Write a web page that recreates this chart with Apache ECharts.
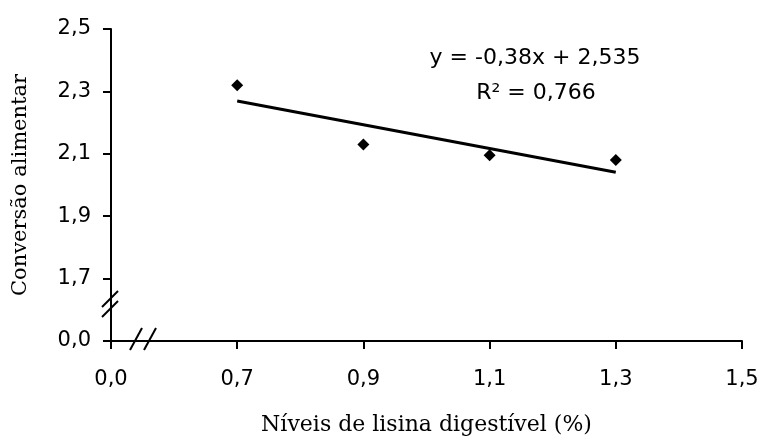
<!DOCTYPE html>
<html><head><meta charset="utf-8">
<script src="https://cdn.jsdelivr.net/npm/echarts@6/dist/echarts.min.js"></script>
<style>html,body{margin:0;padding:0;background:#fff}#c{width:762px;height:441px}</style>
</head><body><div id="c"></div>
<script>
// Data
const lysineLevels = [0.7, 0.9, 1.1, 1.3];
const feedConversion = [2.32, 2.13, 2.095, 2.08];
const trendX = [0.7, 1.3];
const trendY = [2.269, 2.041];
const xTickLabels = ['0,0', '0,7', '0,9', '1,1', '1,3', '1,5'];
const yTickLabels = ['0,0', '1,7', '1,9', '2,1', '2,3', '2,5'];
const equationText = 'y = -0,38x + 2,535';
const r2Text = 'R² = 0,766';

const chart = echarts.init(document.getElementById('c'));
const tickFont = {color: '#000', fontFamily: 'DejaVu Sans', fontSize: 21};
const option = {
  animation: false,
  grid: {left: 111, right: 20, top: 29, bottom: 100, containLabel: false, outerBoundsMode: 'none'},
  xAxis: {
    type: 'value', min: 0.5, max: 1.5, interval: 0.2,
    name: 'Níveis de lisina digestível (%)', nameLocation: 'middle', nameGap: 73,
    nameTextStyle: {color: '#000', fontFamily: 'DejaVu Serif', fontSize: 22},
    axisLine: {show: true, onZero: false, lineStyle: {color: '#000', width: 2}},
    axisTick: {show: true, inside: false, length: 8, lineStyle: {color: '#000', width: 2}},
    axisLabel: Object.assign({margin: 28, formatter: (v, i) => xTickLabels[i]}, tickFont),
    splitLine: {show: false}
  },
  yAxis: {
    type: 'value', min: 1.5, max: 2.5, interval: 0.2,
    name: 'Conversão alimentar', nameLocation: 'middle', nameGap: 80,
    nameTextStyle: {color: '#000', fontFamily: 'DejaVu Serif', fontSize: 21},
    axisLine: {show: true, onZero: false, lineStyle: {color: '#000', width: 2}},
    axisTick: {show: true, length: 8, lineStyle: {color: '#000', width: 2}},
    axisLabel: Object.assign({margin: 20, formatter: (v, i) => yTickLabels[i]}, tickFont),
    splitLine: {show: false}
  },
  series: [
    {
      type: 'line', data: trendX.map((x, i) => [x, trendY[i]]),
      showSymbol: false, symbol: 'none',
      lineStyle: {color: '#000', width: 3}, z: 2
    },
    {
      type: 'scatter', data: lysineLevels.map((x, i) => [x, feedConversion[i]]),
      symbol: 'diamond', symbolSize: 12,
      itemStyle: {color: '#000', opacity: 1}, z: 3
    }
  ]
};
chart.setOption(option);

const o = chart.convertToPixel({gridIndex: 0}, [0.5, 1.5]);
const ln = (x1, y1, x2, y2) => ({type: 'line', shape: {x1, y1, x2, y2}, style: {stroke: '#000', lineWidth: 2}});
chart.setOption({
  graphic: [
    {type: 'rect', shape: {x: o[0] + 14, y: o[1] - 3, width: 26, height: 6}, style: {fill: '#fff'}},
    {type: 'rect', shape: {x: o[0] - 3, y: o[1] - 44, width: 6, height: 24}, style: {fill: '#fff'}},
    ln(o[0] + 19, o[1] + 9, o[0] + 31, o[1] - 13),
    ln(o[0] + 33, o[1] + 9, o[0] + 45, o[1] - 13),
    ln(o[0] - 9, o[1] - 24, o[0] + 7, o[1] - 40),
    ln(o[0] - 9, o[1] - 34, o[0] + 7, o[1] - 50),
    {type: 'text', x: 535, y: 58, style: {text: equationText, fill: '#000', font: '22px "DejaVu Sans"', textAlign: 'center', textVerticalAlign: 'middle'}},
    {type: 'text', x: 536, y: 93, style: {text: r2Text, fill: '#000', font: '22px "DejaVu Sans"', textAlign: 'center', textVerticalAlign: 'middle'}}
  ]
});
</script></body></html>
